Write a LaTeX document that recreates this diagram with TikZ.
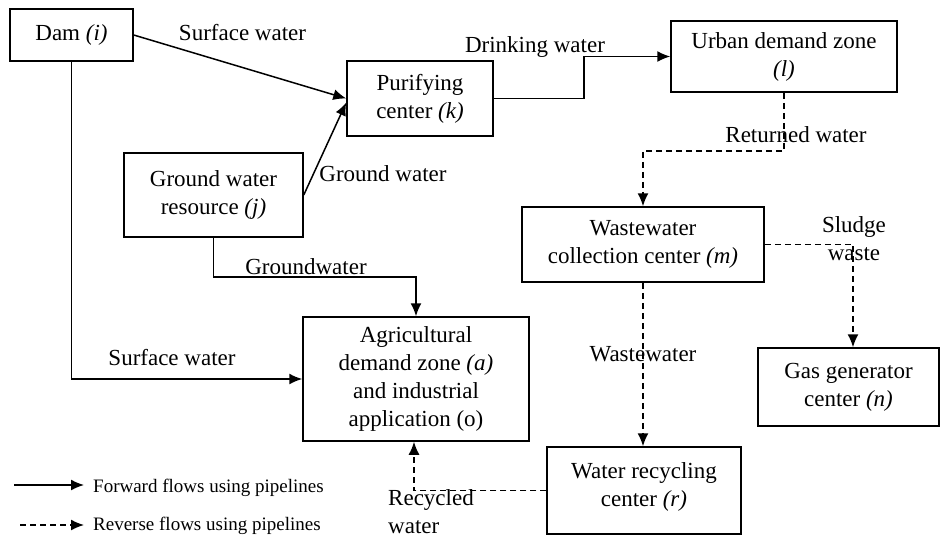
\documentclass[tikz,border=0pt]{standalone}
\usepackage{fontspec}
\setmainfont{Liberation Serif}
\usepackage{tikz}
\usetikzlibrary{arrows.meta,calc}
\tikzset{
	box/.style={draw, line width=1.5pt, align=center, inner sep=0pt, font=\fontsize{23}{28}\selectfont},
	lbl/.style={inner sep=0pt, align=center, font=\fontsize{23}{28}\selectfont},
	leglbl/.style={inner sep=0pt, anchor=base west, font=\fontsize{19}{22}\selectfont},
	flow/.style={line width=1.5pt, -{Latex[length=13pt,width=11pt]}},
	rflow/.style={line width=1.5pt, dash pattern=on 6pt off 4pt, -{Latex[length=13pt,width=11pt]}}
}

\begin{document}
\begin{tikzpicture}[x=1pt,y=-1pt]
		%%%%% START %%%%%
		\useasboundingbox (0,0) rectangle (940,539);
		
		\node[box, minimum width=123pt, minimum height=52pt] (dam) at (71.5, 35) {Dam \textit{(i)}};
		\node[box, minimum width=146pt, minimum height=75pt] (puri) at (420, 98.5) {Purifying\\center \textit{(k)}};
		\node[box, minimum width=179pt, minimum height=84pt] (gwr) at (213.5, 195) {Ground water\\resource \textit{(j)}};
		\node[box, minimum width=226pt, minimum height=71pt] (urban) at (784, 56.5) {Urban demand zone\\\textit{(l)}};
		\node[box, minimum width=242pt, minimum height=75pt] (wwc) at (643, 244.5) {Wastewater\\collection center \textit{(m)}};
		\node[box, minimum width=226pt, minimum height=124pt] (agri) at (416, 379) {Agricultural\\demand zone \textit{(a)}\\and industrial\\application (o)};
		\node[box, minimum width=181pt, minimum height=78pt] (gas) at (848.5, 387) {Gas generator\\center \textit{(n)}};
		\node[box, minimum width=194pt, minimum height=87pt] (rec) at (644, 490.5) {Water recycling\\center \textit{(r)}\\[-16pt]\mbox{}};
		
		% forward flows
		\draw[flow](dam.east) -- (puri.west);
		\draw[flow](gwr.east) -- ([yshift=-4pt]puri.west);
		\draw[flow](puri.east) -- ++(90,0) |- (urban.west);
		\draw[flow](gwr.south) -- ++(0,39) -| (agri.north);
		\draw[flow](dam.south) |- (agri.west);
		
		% reverse flows
		\draw[rflow](urban.south) -- ++(0,58) -| (wwc.north);
		\draw[rflow](wwc.east) -| ([xshift=4.5pt]gas.north);
		\draw[rflow](wwc.south) -- (wwc.south |- rec.north);
		\draw[rflow](rec.west) -| ([xshift=-2pt]agri.south);
		
		\node[lbl, anchor=base] (surftop) at (242.5, 40) {Surface water};
		\node[lbl, anchor=base] (drink) at (535, 52) {Drinking water};
		\node[lbl, anchor=base] (gwtop) at (383, 181) {Ground water};
		\node[lbl, anchor=base] (ret) at (796, 142) {Returned water};
		\node[lbl, anchor=north] (sludge) at (854, 216.5) {Sludge\\waste};
		\node[lbl, anchor=base] (gwbot) at (306, 274) {Groundwater};
		\node[lbl, anchor=base] (surfbot) at (172, 365) {Surface water};
		\node[lbl, anchor=base] (ww) at (643, 361) {Wastewater};
		\node[lbl, anchor=north west, align=left] (recyc) at (388, 489) {Recycled\\water};
		
		% legend
		\coordinate (fwda) at (14, 485);
		\coordinate (fwdb) at (84, 485);
		\coordinate (reva) at (20, 525);
		\coordinate (revb) at (84, 525);
		\draw[flow](fwda) -- (fwdb);
		\draw[rflow](reva) -- (revb);
		\node[leglbl] (fwdtxt) at (93, 492) {Forward flows using pipelines};
		\node[leglbl] (revtxt) at (93, 530) {Reverse flows using pipelines};
		
		%%%%% END %%%%%
	\end{tikzpicture}
\end{document}
